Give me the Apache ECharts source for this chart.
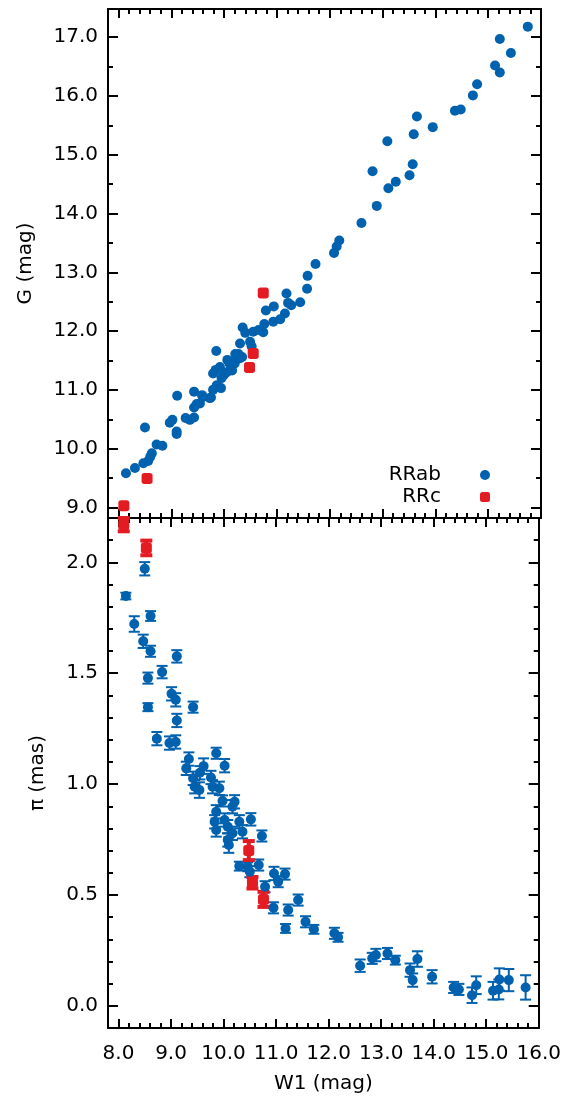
<!DOCTYPE html>
<html><head><meta charset="utf-8">
<script src="https://cdn.jsdelivr.net/npm/echarts@6/dist/echarts.min.js"></script>
<style>html,body{margin:0;padding:0;background:#fff}#c{width:564px;height:1104px}</style>
</head><body><div id="c"></div><script>
// ---- data ----
const rrabTopW1 = [8.14,8.31,8.47,8.56,8.60,8.63,8.50,8.72,8.83,8.97,9.02,9.10,9.10,9.11,9.27,9.35,9.43,9.43,9.43,9.54,9.60,9.73,
  9.48,9.58,9.75,9.79,9.86,9.94,9.79,9.84,9.92,9.99,10.06,10.13,10.20,10.23,10.27,10.34,10.30,9.85,10.21,10.30,10.05,10.15,9.95,10.10,
  10.35,10.40,10.55,10.65,10.74,10.76,10.93,11.06,11.15,10.79,10.94,11.18,11.21,11.27,11.44,11.57,11.58,11.73,10.49,10.52,
  12.08,12.13,12.18,12.60,12.89,13.11,13.25,12.81,13.51,13.57,13.09,13.59,13.65,13.95,14.37,14.48,14.71,14.79,15.13,15.22,15.22,15.43,15.75];
const rrabTopG = [9.58,9.67,9.75,9.79,9.86,9.92,10.36,10.07,10.05,10.44,10.49,10.29,10.25,10.90,10.52,10.49,10.53,10.70,10.97,10.77,10.88,10.86,
  10.76,10.91,10.87,11.00,11.08,11.03,11.28,11.34,11.39,11.25,11.51,11.39,11.45,11.56,11.61,11.56,11.79,11.66,11.61,11.54,11.30,11.33,11.20,11.45,
  12.06,11.97,11.99,12.02,11.98,12.12,12.16,12.20,12.30,12.35,12.42,12.64,12.48,12.44,12.49,12.72,12.94,13.14,11.82,11.74,
  13.33,13.44,13.54,13.84,14.13,14.43,14.54,14.72,14.65,14.84,15.23,15.35,15.65,15.47,15.75,15.77,16.01,16.20,16.52,16.40,16.97,16.73,17.18];
const rrcTopW1 = [8.10,8.54,10.48,10.55,10.74];
const rrcTopG  = [9.03,9.49,11.38,11.62,12.65];

const rrabBotW1 = [8.14,8.30,8.47,8.50,8.56,8.56,8.61,8.61,8.73,8.83,8.97,9.01,9.09,9.09,9.11,9.11,9.29,9.34,9.42,9.42,9.45,9.54,9.55,9.62,
  9.76,9.79,9.86,9.92,9.98,10.02,10.21,10.17,9.86,9.83,9.86,10.02,10.08,10.17,10.08,10.30,10.36,10.52,10.10,10.73,10.30,10.46,10.67,10.50,
  10.96,11.17,11.04,10.79,10.95,11.23,11.42,11.18,11.56,11.72,12.11,12.18,12.60,12.83,12.90,13.12,13.27,13.55,13.60,13.69,13.97,
  14.38,14.48,14.73,14.81,15.13,15.25,15.24,15.43,15.75];
const rrabPlx = [1.848,1.722,1.644,1.971,1.478,1.347,1.758,1.599,1.205,1.505,1.185,1.407,1.380,1.190,1.576,1.287,1.071,1.113,1.347,1.026,0.988,0.973,1.051,1.081,
  1.030,0.988,1.139,0.981,0.924,1.083,0.920,0.898,0.875,0.830,0.793,0.838,0.808,0.778,0.748,0.830,0.785,0.841,0.725,0.766,0.630,0.627,0.635,0.605,
  0.597,0.594,0.560,0.537,0.442,0.432,0.477,0.349,0.379,0.345,0.327,0.309,0.181,0.214,0.229,0.236,0.206,0.161,0.116,0.211,0.131,
  0.083,0.074,0.048,0.093,0.068,0.119,0.074,0.116,0.083];
const rrabPlxErr = [0.015,0.035,0.03,0.03,0.025,0.018,0.022,0.025,0.03,0.028,0.03,0.03,0.03,0.03,0.028,0.03,0.03,0.03,0.025,0.03,0.03,0.035,0.03,0.035,
  0.03,0.03,0.025,0.03,0.025,0.03,0.03,0.03,0.03,0.03,0.03,0.03,0.03,0.03,0.03,0.03,0.03,0.028,0.035,0.025,0.02,0.02,0.025,0.025,
  0.03,0.025,0.025,0.025,0.025,0.025,0.025,0.02,0.025,0.02,0.025,0.02,0.028,0.025,0.028,0.025,0.02,0.03,0.03,0.035,0.03,
  0.025,0.025,0.035,0.04,0.04,0.05,0.045,0.05,0.055];
const rrcBotW1 = [8.10,8.53,10.48,10.55,10.76];
const rrcPlx = [2.17,2.065,0.70,0.555,0.48];
const rrcPlxErr = [0.03,0.033,0.043,0.026,0.034];

// ticks
const xTicks = [8,9,10,11,12,13,14,15,16];
const gTicks = [9,10,11,12,13,14,15,16,17];
const plxTicks = [0,0.5,1.0,1.5,2.0];
const xMinor = []; for (let i = 40; i <= 80; i++) if (i % 5) xMinor.push(i / 5);
const gMinor = []; for (let i = 19; i <= 33; i += 2) gMinor.push(i / 2);
const plxMinor = []; for (let i = 1; i <= 21; i++) if (i % 5) plxMinor.push(i / 10);

const BLUE = '#0061AE', RED = '#E31B23';
const FONT = 'DejaVu Sans';

function xAx(grid, pos, ticks, len, line, labels, name) {
  const o = {type:'value', gridIndex:grid, position:pos, min:7.8, max:16,
    axisLine:{show:line, onZero:false, lineStyle:{color:'#000', width:2}},
    axisTick:{show:true, inside:true, length:len, customValues:ticks, lineStyle:{color:'#000', width:2}},
    axisLabel:{show:false}, splitLine:{show:false}};
  if (labels) o.axisLabel = {show:true, customValues:ticks, formatter:v=>v.toFixed(1), fontFamily:FONT, fontSize:20, color:'#000', margin:16};
  if (name) Object.assign(o, {name, nameLocation:'middle', nameGap:46, nameTextStyle:{fontFamily:FONT, fontSize:20, color:'#000'}});
  return o;
}
function yAx(grid, pos, mn, mx, ticks, len, line, labels, name, gap) {
  const o = {type:'value', gridIndex:grid, position:pos, min:mn, max:mx,
    axisLine:{show:line, onZero:false, lineStyle:{color:'#000', width:2}},
    axisTick:{show:true, inside:true, length:len, customValues:ticks, lineStyle:{color:'#000', width:2}},
    axisLabel:{show:false}, splitLine:{show:false}};
  if (labels) o.axisLabel = {show:true, customValues:ticks, formatter:v=>v.toFixed(1), fontFamily:FONT, fontSize:20, color:'#000', margin:10};
  if (name) Object.assign(o, {name, nameLocation:'middle', nameGap:gap, nameTextStyle:{fontFamily:FONT, fontSize:20, color:'#000'}});
  return o;
}
const G_MIN = 8.82, G_MAX = 17.48, P_MIN = -0.1, P_MAX = 2.2;

function errRender(color, capHalf, lw) {
  return function (params, api) {
    const x = api.value(0), y = api.value(1), e = api.value(2);
    const t = api.coord([x, y + e]), b = api.coord([x, y - e]);
    const st = {stroke:color, lineWidth:lw};
    return {type:'group', children:[
      {type:'line', shape:{x1:t[0], y1:t[1], x2:b[0], y2:b[1]}, style:st},
      {type:'line', shape:{x1:t[0]-capHalf, y1:t[1], x2:t[0]+capHalf, y2:t[1]}, style:st},
      {type:'line', shape:{x1:b[0]-capHalf, y1:b[1], x2:b[0]+capHalf, y2:b[1]}, style:st}
    ]};
  };
}
const zip2 = (a, b) => a.map((v, i) => [v, b[i]]);
const zip3 = (a, b, c) => a.map((v, i) => [v, b[i], c[i]]);

const option = {
  animation:false,
  backgroundColor:'#fff',
  grid:[
    {left:108, right:23, top:9, height:509},
    {left:108, right:23, top:518, height:510}
  ],
  xAxis:[
    xAx(0,'bottom',xTicks,9,true,false),
    xAx(0,'top',xTicks,9,true,false),
    xAx(0,'bottom',xMinor,5,false,false),
    xAx(0,'top',xMinor,5,false,false),
    xAx(1,'bottom',xTicks,9,true,true,'W1 (mag)'),
    xAx(1,'top',xTicks,9,true,false),
    xAx(1,'bottom',xMinor,5,false,false),
    xAx(1,'top',xMinor,5,false,false)
  ],
  yAxis:[
    yAx(0,'left',G_MIN,G_MAX,gTicks,10,true,true,'G (mag)',72),
    yAx(0,'right',G_MIN,G_MAX,gTicks,10,true,false),
    yAx(0,'left',G_MIN,G_MAX,gMinor,5,false,false),
    yAx(0,'right',G_MIN,G_MAX,gMinor,5,false,false),
    yAx(1,'left',P_MIN,P_MAX,plxTicks,10,true,true,'π (mas)',60),
    yAx(1,'right',P_MIN,P_MAX,plxTicks,10,true,false),
    yAx(1,'left',P_MIN,P_MAX,plxMinor,5,false,false),
    yAx(1,'right',P_MIN,P_MAX,plxMinor,5,false,false)
  ],
  legend:{orient:'vertical', right:74, top:464, padding:0, itemGap:0, align:'right',
    itemWidth:10, itemHeight:10, selectedMode:false,
    data:[{name:'RRab', icon:'circle'}, {name:'RRc', icon:'roundRect'}],
    textStyle:{fontFamily:FONT, fontSize:20, color:'#000', lineHeight:22, padding:[0,34,0,0]}},
  series:[
    {type:'scatter', name:'RRab', xAxisIndex:0, yAxisIndex:0, symbol:'circle', symbolSize:10,
      itemStyle:{color:BLUE, opacity:1}, data:zip2(rrabTopW1, rrabTopG)},
    {type:'scatter', name:'RRc', xAxisIndex:0, yAxisIndex:0, symbol:'roundRect', symbolSize:11,
      itemStyle:{color:RED, opacity:1}, data:zip2(rrcTopW1, rrcTopG)},
    {type:'custom', name:'RRab err', xAxisIndex:4, yAxisIndex:4, renderItem:errRender(BLUE,5.5,2),
      encode:{x:0, y:1}, data:zip3(rrabBotW1, rrabPlx, rrabPlxErr)},
    {type:'scatter', name:'RRab', xAxisIndex:4, yAxisIndex:4, symbol:'circle', symbolSize:10,
      itemStyle:{color:BLUE, opacity:1}, data:zip2(rrabBotW1, rrabPlx)},
    {type:'custom', name:'RRc err', xAxisIndex:4, yAxisIndex:4, renderItem:errRender(RED,6,4),
      encode:{x:0, y:1}, data:zip3(rrcBotW1, rrcPlx, rrcPlxErr)},
    {type:'scatter', name:'RRc', xAxisIndex:4, yAxisIndex:4, symbol:'roundRect', symbolSize:11,
      itemStyle:{color:RED, opacity:1}, data:zip2(rrcBotW1, rrcPlx)}
  ]
};
const chart = echarts.init(document.getElementById('c'), null, {renderer:'canvas'});
chart.setOption(option);
</script></body></html>
